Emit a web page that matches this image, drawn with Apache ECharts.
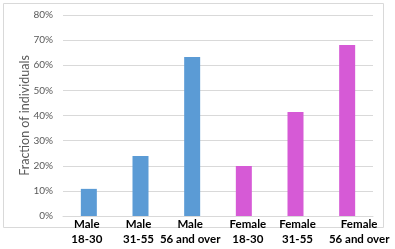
<!DOCTYPE html>
<html><head><meta charset="utf-8">
<script src="https://cdn.jsdelivr.net/npm/echarts@6/dist/echarts.min.js"></script>
<style>html,body{margin:0;padding:0;background:#fff}#c{width:395px;height:249px}</style>
</head><body><div id="c"></div>
<script>
const categories = ['Male\n18-30','Male\n31-55','Male\n56 and over','Female\n18-30','Female\n31-55','Female\n56 and over'];
const values = [10.8, 23.9, 63.3, 19.9, 41.4, 68.1];
const barColors = ['#5B9BD5','#5B9BD5','#5B9BD5','#D65AD6','#D65AD6','#D65AD6'];
const yTicks = [0,10,20,30,40,50,60,70,80];
const yName = 'Fraction of individuals';
const labelShift = [-4, -4, -4, 8, 4, 24];

const chart = echarts.init(document.getElementById('c'));
chart.setOption({
  animation:false,
  graphic:[{type:'rect',shape:{x:3.5,y:3.5,width:380,height:224},style:{fill:'none',stroke:'#d9d9d9',lineWidth:1},z:-1}],
  grid:{left:63,right:22,top:15,bottom:33},
  xAxis:{type:'category',data:categories.map((c,i)=> ({value:c,textStyle:{padding: labelShift[i]>=0 ? [0,0,0,labelShift[i]] : [0,-labelShift[i],0,0]}})),
    axisLine:{lineStyle:{color:'#d9d9d9'}},axisTick:{show:false},
    axisLabel:{interval:0,margin:1,fontFamily:'Lato',fontWeight:'bold',fontSize:11.5,lineHeight:15,color:'#000'}},
  yAxis:{type:'value',min:yTicks[0],max:yTicks[yTicks.length-1],interval:10,
    name:yName,nameLocation:'middle',nameGap:32,nameMoveOverlap:false,
    nameTextStyle:{fontFamily:'Lato',fontSize:12.5,color:'#595959'},
    axisLabel:{formatter:'{value}%',fontFamily:'Lato',fontSize:10,color:'#595959',margin:10},
    splitLine:{lineStyle:{color:'#d9d9d9'}},axisLine:{show:false},axisTick:{show:false}},
  series:[{type:'bar',barWidth:16,data:values.map((v,i)=>({value:v,itemStyle:{color:barColors[i]}}))}]
});
</script></body></html>
